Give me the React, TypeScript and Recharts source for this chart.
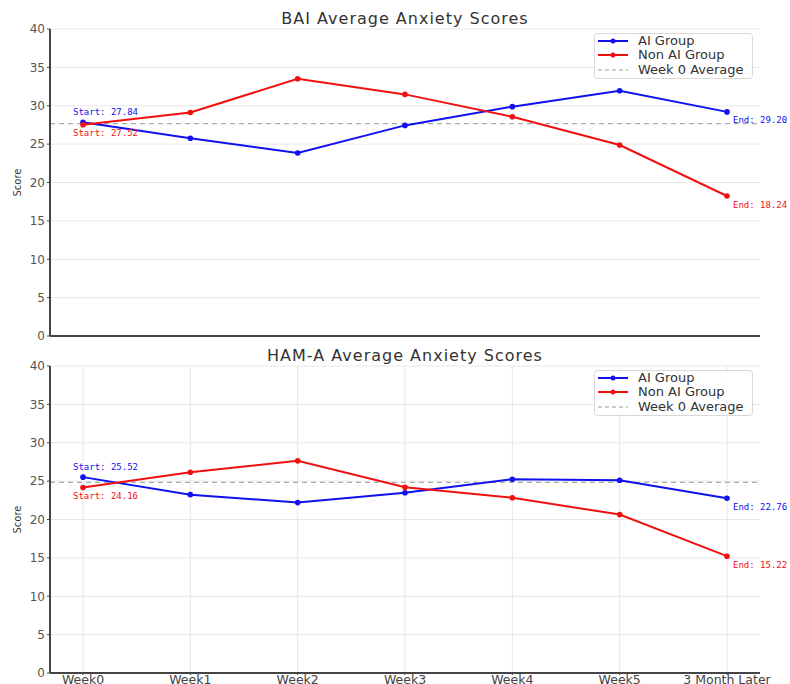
import React from 'react';
import {
  LineChart, Line, XAxis, YAxis, CartesianGrid, ReferenceLine, LabelList, Customized,
} from 'recharts';

const categories = ['Week0', 'Week1', 'Week2', 'Week3', 'Week4', 'Week5', '3 Month Later'];
const baiAI = [27.84, 25.76, 23.84, 27.44, 29.88, 31.96, 29.2];
const baiNonAI = [27.52, 29.12, 33.52, 31.48, 28.56, 24.88, 18.24];
const hamAI = [25.52, 23.24, 22.2, 23.48, 25.24, 25.12, 22.76];
const hamNonAI = [24.16, 26.16, 27.64, 24.2, 22.84, 20.64, 15.22];
const yTicks = [0, 5, 10, 15, 20, 25, 30, 35, 40];
const seriesNames = ['AI Group', 'Non AI Group', 'Week 0 Average'];
const titles = ['BAI Average Anxiety Scores', 'HAM-A Average Anxiety Scores'];

const BLUE = '#1010f0';
const RED = '#f01010';
const FONT = 'DejaVu Sans, sans-serif';
const MONO = 'DejaVu Sans Mono, monospace';

const buildRows = (ai: number[], non: number[]) =>
  categories.map((c, i) => ({ cat: c, ai: ai[i], non: non[i] }));

const makeLabel = (color: string, startAbove: boolean, n: number) => (props: any) => {
  const { x, y, index, value } = props;
  if (index !== 0 && index !== n - 1) return null;
  const isStart = index === 0;
  const tx = isStart ? x - 10 : x + 6;
  const ty = isStart ? (startAbove ? y - 10 : y + 9) : y + 9;
  const txt = (isStart ? 'Start: ' : 'End: ') + Number(value).toFixed(2);
  return (
    <text x={tx} y={ty} fill={color} fontSize={9} fontFamily={MONO} dominantBaseline="middle" textAnchor="start">
      {txt}
    </text>
  );
};

const LegendBox = ({ x, y }: { x: number; y: number }) => (
  <g transform={`translate(${x} ${y})`}>
    <rect x={0.5} y={0.5} width={158} height={45} rx={3} fill="#fff" fillOpacity={0.85} stroke="#d8d8d8" />
    <line x1={4} x2={34} y1={8} y2={8} stroke={BLUE} strokeWidth={2} />
    <circle cx={19} cy={8} r={2.5} fill={BLUE} />
    <text x={44} y={8} dominantBaseline="middle" fontSize={13} fontFamily={FONT} fill="#333">{seriesNames[0]}</text>
    <line x1={4} x2={34} y1={22} y2={22} stroke={RED} strokeWidth={2} />
    <circle cx={19} cy={22} r={2.5} fill={RED} />
    <text x={44} y={22} dominantBaseline="middle" fontSize={13} fontFamily={FONT} fill="#333">{seriesNames[1]}</text>
    <line x1={4} x2={34} y1={37} y2={37} stroke="#999" strokeWidth={1} strokeDasharray="4 3" />
    <text x={44} y={37} dominantBaseline="middle" fontSize={13} fontFamily={FONT} fill="#333">{seriesNames[2]}</text>
  </g>
);

type PanelProps = {
  ai: number[];
  non: number[];
  title: string;
  marginTop: number;
  titleY: number;
  showX: boolean;
};

const Panel = ({ ai, non, title, marginTop, titleY, showX }: PanelProps) => {
  const rows = buildRows(ai, non);
  const avg = (ai[0] + non[0]) / 2;
  const height = 342;
  const xHeight = showX ? 11 : 6;
  const plotTop = marginTop;
  const plotBottom = height - xHeight;
  return (
    <LineChart
      width={790}
      height={height}
      data={rows}
      margin={{ top: marginTop, right: 30, left: 0, bottom: 0 }}
      style={{ fontFamily: FONT }}
    >
      <CartesianGrid stroke="#e8e8e8" strokeWidth={1} syncWithTicks />
      <XAxis
        dataKey="cat"
        type="category"
        padding={{ left: 33, right: 33 }}
        height={xHeight}
        axisLine={{ stroke: '#444', strokeWidth: 2 }}
        tickLine={{ stroke: '#444' }}
        tickSize={2}
        tickMargin={0}
        tick={showX ? { fontSize: 12.5, fill: '#444', fontFamily: FONT } : false}
        interval={0}
      />
      <YAxis
        domain={[0, 40]}
        ticks={yTicks}
        interval={0}
        width={50}
        axisLine={{ stroke: '#444', strokeWidth: 2 }}
        tickLine={{ stroke: '#444' }}
        tickSize={3}
        tickMargin={2}
        tick={{ fontSize: 12, fill: '#555', fontFamily: FONT }}
      />
      <ReferenceLine y={avg} stroke="#aaa" strokeWidth={1.2} strokeDasharray="5 4" />
      <Line
        dataKey="ai"
        name={seriesNames[0]}
        stroke={BLUE}
        strokeWidth={2}
        dot={{ r: 2.8, fill: BLUE, stroke: BLUE, strokeWidth: 0 }}
        isAnimationActive={false}
      >
        <LabelList dataKey="ai" content={makeLabel(BLUE, true, rows.length)} />
      </Line>
      <Line
        dataKey="non"
        name={seriesNames[1]}
        stroke={RED}
        strokeWidth={2}
        dot={{ r: 2.8, fill: RED, stroke: RED, strokeWidth: 0 }}
        isAnimationActive={false}
      >
        <LabelList dataKey="non" content={makeLabel(RED, false, rows.length)} />
      </Line>
      <Customized
        component={() => (
          <g>
            <LegendBox x={594} y={marginTop + 4} />
            <text x={405} y={titleY} textAnchor="middle" dominantBaseline="middle" fontSize={16} letterSpacing={1} fontFamily={FONT} fill="#333">
              {title}
            </text>
            <text
              x={18}
              y={(plotTop + plotBottom) / 2}
              textAnchor="middle"
              dominantBaseline="middle"
              fontSize={10}
              fontFamily={FONT}
              fill="#333"
              transform={`rotate(-90 18 ${(plotTop + plotBottom) / 2})`}
            >
              Score
            </text>
          </g>
        )}
      />
    </LineChart>
  );
};

export default function App() {
  return (
    <div style={{ position: 'absolute', left: 0, top: 0, width: 790, height: 684, background: '#fff', overflow: 'hidden' }}>
      <Panel ai={baiAI} non={baiNonAI} title={titles[0]} marginTop={29} titleY={19} showX={false} />
      <Panel ai={hamAI} non={hamNonAI} title={titles[1]} marginTop={24} titleY={14} showX={true} />
    </div>
  );
}
